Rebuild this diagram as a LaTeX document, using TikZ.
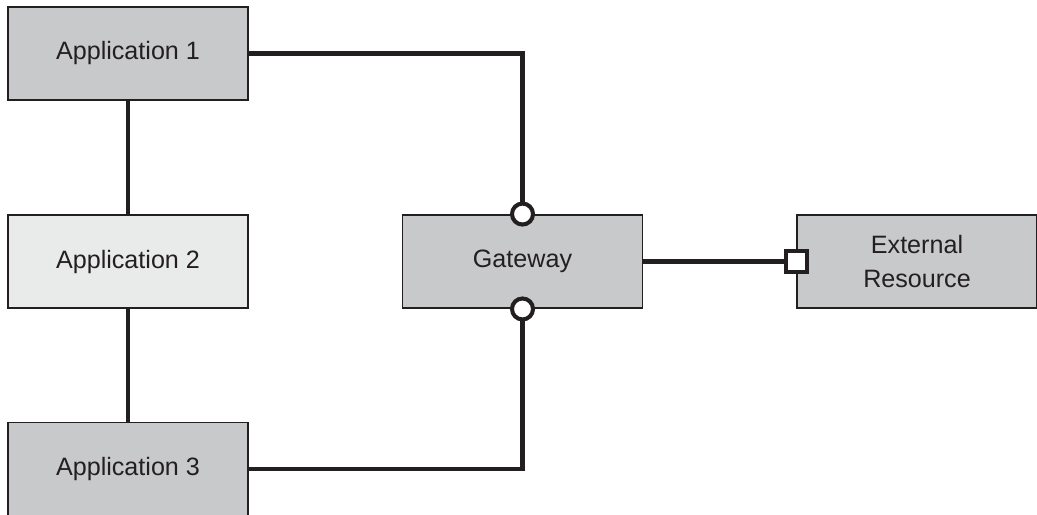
\documentclass[tikz,border=0pt]{standalone}
\usepackage{fontspec}
\setmainfont{Liberation Sans}
\usepackage{xcolor}
\usetikzlibrary{calc}
\definecolor{boxgray}{HTML}{C8C9CB}
\definecolor{boxlight}{HTML}{E9EAEA}
\definecolor{ink}{HTML}{231F20}

\begin{document}
\begin{tikzpicture}[x=0.02cm,y=-0.02cm,line join=miter,
    appbox/.style={draw=ink,line width=1.1pt,fill=boxgray,minimum width=4.8cm,
      minimum height=1.86cm,inner sep=0pt,align=center,text=ink,
      font=\fontsize{14.3}{19.9}\selectfont},
    link/.style={draw=ink,line width=2.3pt}]
  \useasboundingbox (0,0) rectangle (1037,514);
  \node[appbox] (A1) at (128,53.5) {Application 1};
  \node[appbox,fill=boxlight] (A2) at (128,261.5) {Application 2};
  \node[appbox] (A3) at (128,469) {Application 3};
  \node[appbox] (GW) at (522.5,261.5) {Gateway};
  \node[appbox] (ER) at (917,261.5) {External\\Resource};
  \draw[link] (A1) -- (A2);
  \draw[link] (A2) -- (A3);
  \draw[link] (A1.east) -| (GW.north);
  \draw[link] (A3.east) -| (GW.south);
  \draw[link] (GW.east) -- (ER.west);
  \draw[link,fill=white] (GW.north) circle (10.5);
  \draw[link,fill=white] (GW.south) circle (10.5);
  \draw[link,fill=white] ($(ER.west)+(-10.5,-10.5)$) rectangle ($(ER.west)+(10.5,10.5)$);
\end{tikzpicture}
\end{document}
